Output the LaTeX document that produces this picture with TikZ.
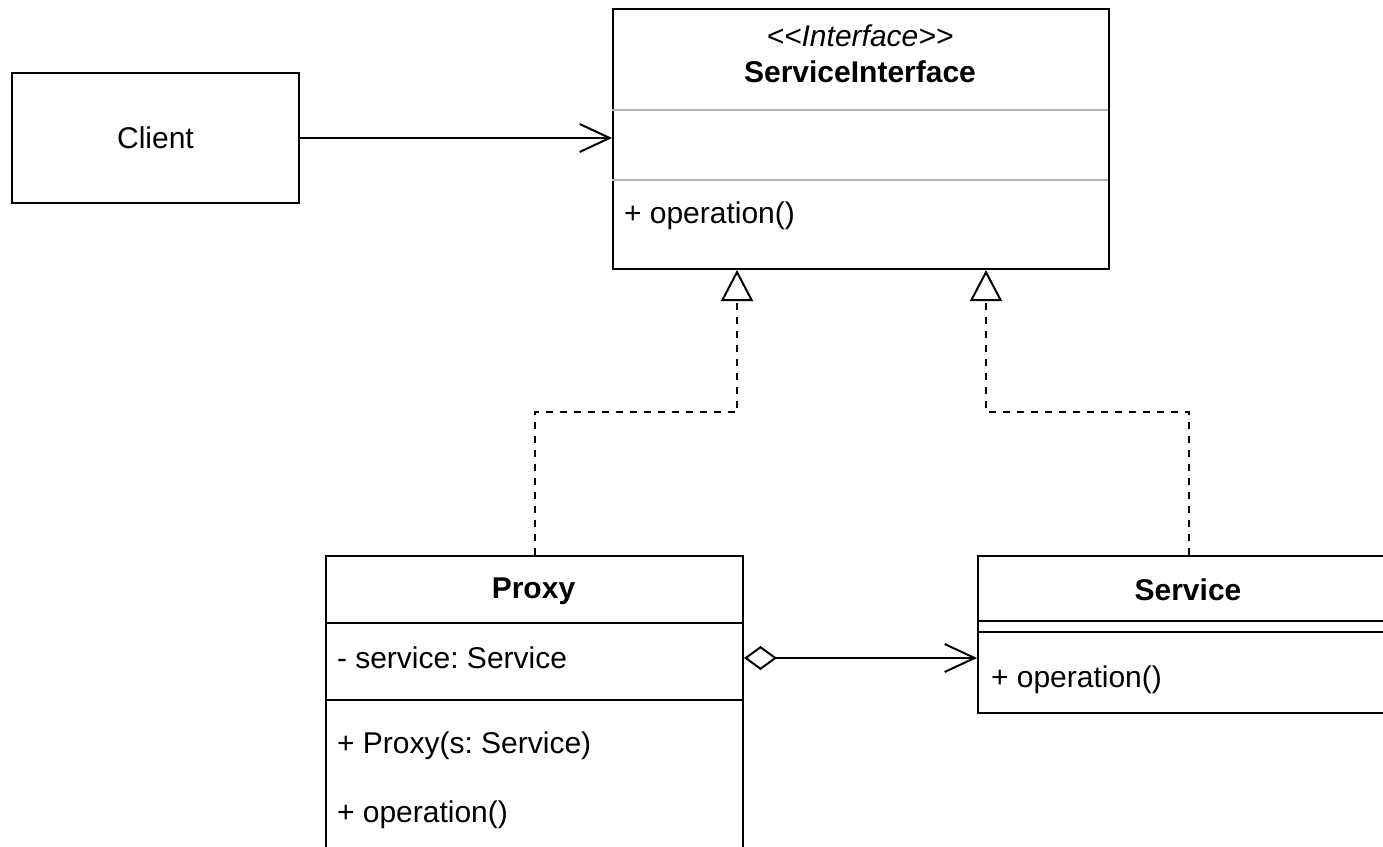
\documentclass[tikz,border=0pt]{standalone}
\usepackage{fontspec}
\setmainfont{Liberation Sans}
\usetikzlibrary{arrows.meta}
\frenchspacing

\begin{document}
\begin{tikzpicture}[x=1pt, y=-1pt, line width=2pt,
  font=\fontsize{30}{36}\selectfont,
  classbox/.style={draw, inner sep=0pt, anchor=north west},
  member/.style={inner sep=0pt, anchor=west},
  title/.style={inner sep=0pt, font=\fontsize{30}{36}\selectfont\bfseries},
  realize/.style={dash pattern=on 7pt off 7pt, -{Triangle[open, length=31pt, width=32pt]}},
  uses/.style={-{Straight Barb[length=30pt, width=28pt]}}]

\useasboundingbox (0,0) rectangle (1383,846);
\clip (0,0) rectangle (1383,846);

% client
\node[draw, minimum width=287pt, minimum height=130pt] (client) at (155.5,138) {Client};

% interface
\node[classbox, minimum width=496pt, minimum height=260pt] (iface) at (612,8) {};
\node[inner sep=0pt, font=\fontsize{30}{36}\selectfont\itshape] (stereo) at (860,36) {{<}{<}Interface{>}{>}};
\node[title] (ifacename) at (860,72) {ServiceInterface};
\foreach \y in {110,180}
  \draw[gray!60] (612,\y) -- (1108,\y);
\node[member] (ifaceop) at (623,216) {+ operation()};

% proxy
\node[classbox, minimum width=417pt, minimum height=340pt] (proxy) at (325,555) {};
\node[title] (proxyname) at (533.5,591) {Proxy};
\foreach \y in {623,700}
  \draw (325,\y) -- (742,\y);
\node[member] (attr) at (336,658) {- service: Service};
\node[member] (ctor) at (336,746) {+ Proxy(s: Service)};
\node[member] (proxyop) at (336,815) {+ operation()};

% service
\node[classbox, minimum width=422pt, minimum height=157pt] (service) at (977,555) {};
\node[title] (servicename) at (1188,590) {Service};
\foreach \y in {621,632}
  \draw (977,\y) -- (1399,\y);
\node[member] (serviceop) at (990,680) {+ operation()};

% relations
\draw[uses] (client) -- (client -| iface.west);
\draw[realize] (proxy.north) -- ++(0,-143) -| ([xshift=125pt]iface.south west);
\draw[realize] (service.north) -- ++(0,-143) -| ([xshift=-124pt]iface.south east);
\draw[{Diamond[open, length=33pt, width=24pt]}-{Straight Barb[length=30pt, width=28pt]}]
  (attr -| proxy.east) -- (attr -| service.west);

\end{tikzpicture}
\end{document}
